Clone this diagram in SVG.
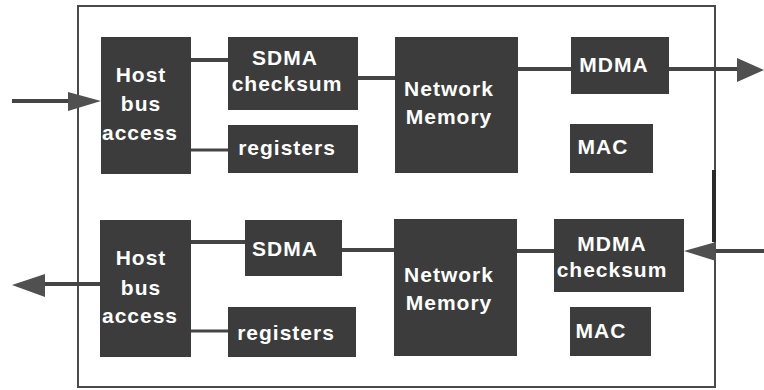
<svg xmlns="http://www.w3.org/2000/svg" width="764" height="390" viewBox="0 0 764 390">
  <style>
    .blk { fill: #3c3c3c; }
    .lbl { fill: #ffffff; font-family: "Liberation Sans", Arial, sans-serif; font-weight: bold; font-size: 21px; letter-spacing: 1px; text-anchor: middle; }
    .frame { fill: none; stroke: #4a4a4a; stroke-width: 2; }
    .bus { stroke: #444444; stroke-width: 4; fill: none; }
    .ctl { stroke: #444444; stroke-width: 3; fill: none; }
    .head { fill: #505050; }
  </style>
  <rect width="764" height="390" fill="#ffffff"/>

  <!-- adapter board outline -->
  <g id="board">
    <rect class="frame" x="78" y="6" width="637" height="381"/>
    <line x1="714" y1="170" x2="714" y2="242" stroke="#2a2a2a" stroke-width="4"/>
  </g>

  <!-- connectors -->
  <g id="connectors">
    <!-- transmit path -->
    <line class="bus" x1="12" y1="101" x2="70" y2="101"/>
    <polygon class="head" points="68,92 101,101 68,111"/>
    <line class="bus" x1="191" y1="60" x2="228" y2="60"/>
    <line class="ctl" x1="191" y1="150" x2="228" y2="150"/>
    <line class="bus" x1="358" y1="78" x2="395" y2="78"/>
    <line class="bus" x1="518" y1="69" x2="571" y2="69"/>
    <line class="bus" x1="669" y1="69" x2="740" y2="69"/>
    <polygon class="head" points="737,58 764,70 737,82"/>
    <!-- receive path -->
    <line class="bus" x1="716" y1="251" x2="764" y2="251"/>
    <polygon class="head" points="716,242 684,251 716,261"/>
    <line class="bus" x1="517" y1="251" x2="554" y2="251"/>
    <line class="bus" x1="342" y1="250" x2="394" y2="250"/>
    <line class="bus" x1="191" y1="242" x2="245" y2="242"/>
    <line class="ctl" x1="191" y1="331" x2="228" y2="331"/>
    <line class="bus" x1="100" y1="284" x2="42" y2="284"/>
    <polygon class="head" points="45,274 12,285 45,297"/>
  </g>

  <!-- transmit side -->
  <g id="tx-host">
    <rect class="blk" x="101" y="37" width="90" height="137"/>
    <text class="lbl" x="141" y="82">Host</text>
    <text class="lbl" x="141" y="111">bus</text>
    <text class="lbl" x="140" y="140">access</text>
  </g>
  <g id="tx-sdma">
    <rect class="blk" x="228" y="37" width="130" height="73"/>
    <text class="lbl" x="285" y="65">SDMA</text>
    <text class="lbl" x="287" y="91">checksum</text>
  </g>
  <g id="tx-registers">
    <rect class="blk" x="228" y="125" width="130" height="48"/>
    <text class="lbl" x="287" y="155">registers</text>
  </g>
  <g id="tx-memory">
    <rect class="blk" x="395" y="37" width="123" height="136"/>
    <text class="lbl" x="449" y="96">Network</text>
    <text class="lbl" x="449" y="124">Memory</text>
  </g>
  <g id="tx-mdma">
    <rect class="blk" x="571" y="37" width="98" height="57"/>
    <text class="lbl" x="614" y="72">MDMA</text>
  </g>
  <g id="tx-mac">
    <rect class="blk" x="570" y="124" width="83" height="49"/>
    <text class="lbl" x="603" y="154">MAC</text>
  </g>

  <!-- receive side -->
  <g id="rx-host">
    <rect class="blk" x="100" y="220" width="91" height="137"/>
    <text class="lbl" x="141" y="265">Host</text>
    <text class="lbl" x="141" y="295">bus</text>
    <text class="lbl" x="140" y="323">access</text>
  </g>
  <g id="rx-sdma">
    <rect class="blk" x="245" y="220" width="97" height="56"/>
    <text class="lbl" x="285" y="256">SDMA</text>
  </g>
  <g id="rx-registers">
    <rect class="blk" x="228" y="307" width="128" height="50"/>
    <text class="lbl" x="286" y="340">registers</text>
  </g>
  <g id="rx-memory">
    <rect class="blk" x="394" y="219" width="123" height="137"/>
    <text class="lbl" x="449" y="282">Network</text>
    <text class="lbl" x="449" y="310">Memory</text>
  </g>
  <g id="rx-mdma">
    <rect class="blk" x="554" y="219" width="130" height="73"/>
    <text class="lbl" x="612" y="251">MDMA</text>
    <text class="lbl" x="612" y="277">checksum</text>
  </g>
  <g id="rx-mac">
    <rect class="blk" x="570" y="307" width="81" height="49"/>
    <text class="lbl" x="601" y="338">MAC</text>
  </g>
</svg>
